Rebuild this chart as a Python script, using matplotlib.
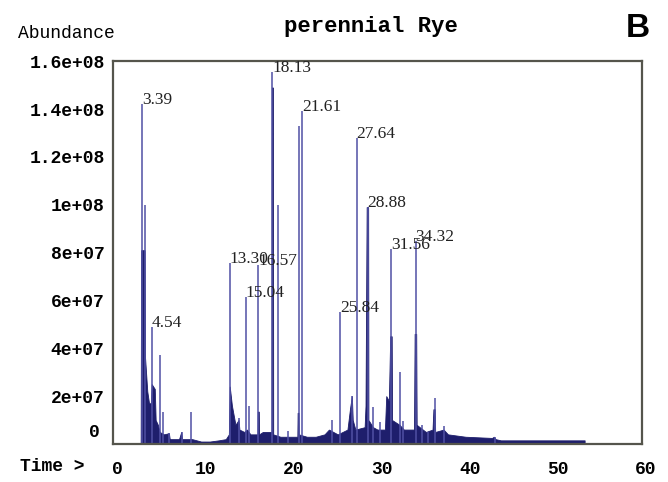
import matplotlib
matplotlib.use("Agg")
from matplotlib import pyplot as plt
from matplotlib.transforms import ScaledTranslation

# peak apex positions (min) and heights (1e7 counts)
peak_times = [3.3, 3.63, 4.38, 5.33, 5.7, 6.4, 7.8, 8.9, 13.27, 14.3, 15.05, 15.4,
              16.5, 18.1, 18.75, 19.9, 21.13, 21.5, 24.87, 25.8, 27.07, 27.63, 28.88,
              29.5, 30.3, 31.53, 32.55, 32.9, 34.33, 35.0, 35.7, 36.5, 37.5, 43.3]
peak_heights = [14.2, 10.0, 4.9, 3.7, 1.35, 0.45, 0.5, 1.35, 7.55, 1.1, 6.15, 1.6,
                7.5, 15.55, 10.0, 0.55, 13.3, 13.9, 1.0, 5.53, 2.0, 12.8, 9.9,
                1.55, 0.9, 8.17, 3.0, 0.95, 8.5, 0.8, 0.5, 1.9, 0.75, 0.3]

# dense part of the trace (baseline + unresolved clusters)
base_t = [3.15, 3.2, 3.6, 3.65, 3.9, 4.1, 4.3, 4.4, 4.75, 4.85, 5.1, 5.3, 5.8, 6.35,
          6.45, 7.5, 7.75, 7.85, 9.0, 10.0, 11.0, 12.0, 12.8, 13.15, 13.25, 13.5, 13.7,
          13.9, 14.25, 14.35, 14.9, 15.2, 15.6, 16.4, 16.43, 16.55, 16.58, 17.0, 18.0,
          18.03, 18.15, 18.18, 19.0, 20.0, 20.92, 20.95, 21.05, 21.08, 22.0, 23.0, 24.0,
          24.5, 25.0, 25.5, 26.6, 26.9, 27.1, 27.2, 27.5, 28.55, 28.65, 28.78, 28.95,
          28.98, 29.5, 30.0, 30.85, 31.0, 31.3, 31.45, 31.62, 31.66, 32.5, 33.0, 34.15,
          34.22, 34.4, 34.45, 35.5, 36.25, 36.35, 36.5, 36.55, 37.5, 38.0, 40.0, 43.0,
          43.2, 43.4, 44.0, 53.5, 53.5]
base_y = [0, 8.1, 8.1, 3.6, 2.2, 1.7, 1.7, 2.5, 2.3, 1.0, 0.8, 0.5, 0.4, 0.45,
          0.2, 0.2, 0.5, 0.2, 0.2, 0.1, 0.1, 0.15, 0.2, 0.4, 2.4, 1.6, 1.2,
          0.8, 1.0, 0.6, 0.5, 0.6, 0.4, 0.4, 1.35, 1.35, 0.4, 0.5, 0.5,
          14.9, 14.9, 0.4, 0.3, 0.3, 0.3, 1.3, 1.3, 0.4, 0.3, 0.3, 0.4,
          0.6, 0.5, 0.4, 0.6, 1.5, 2.0, 1.0, 0.6, 0.7, 1.6, 9.9, 9.9,
          1.0, 0.7, 0.6, 0.6, 2.0, 1.8, 4.5, 4.5, 1.0, 0.8, 0.6, 0.6,
          4.6, 4.6, 0.8, 0.5, 0.6, 1.45, 1.45, 0.5, 0.6, 0.4, 0.3, 0.25,
          0.3, 0.2, 0.15, 0.15, 0]

labels = ["3.39", "4.54", "13.30", "15.04", "16.57", "18.13", "21.61",
          "25.84", "27.64", "28.88", "31.56", "34.32"]
label_t = [3.3, 4.38, 13.27, 15.05, 16.5, 18.1, 21.5, 25.8, 27.63, 28.88, 31.53, 34.33]
label_h = [14.2, 4.9, 7.55, 6.15, 7.5, 15.55, 13.9, 5.53, 12.8, 9.9, 8.17, 8.5]

yticks = [0, 2, 4, 6, 8, 10, 12, 14, 16]
ytick_labels = ["", "2e+07", "4e+07", "6e+07", "8e+07", "1e+08", "1.2e+08", "1.4e+08", "1.6e+08"]
xticks = [0, 10, 20, 30, 40, 50, 60]

mono = "Liberation Mono"
thin_col = "#5050a4"
dark_col = "#1e1e6c"

fig = plt.figure(figsize=(6.68, 4.82), dpi=100)
ax = fig.add_axes([0.169, 0.079, 0.792, 0.794])

ax.vlines(peak_times, 0, peak_heights, color=thin_col, lw=1.1)
ax.fill_between(base_t, 0, base_y, color=dark_col, lw=0.6, edgecolor=dark_col)

for txt, t, h in zip(labels, label_t, label_h):
    ax.text(t, h, txt, fontsize=12.5, family="Liberation Serif", ha="left", va="baseline",
            color="#222222")

ax.set_xlim(0, 60)
ax.set_ylim(0, 16)
ax.set_xticks(xticks)
ax.set_xticklabels([str(v) for v in xticks], family=mono, fontweight="bold", fontsize=13)
ax.set_yticks(yticks)
ax.set_yticklabels(ytick_labels, family=mono, fontweight="bold", fontsize=13)
ax.tick_params(length=0, pad=6)
ax.tick_params(axis="x", pad=12)
shift = ScaledTranslation(3 / 72, 0, fig.dpi_scale_trans)
for lbl in ax.get_xticklabels():
    lbl.set_transform(lbl.get_transform() + shift)
for s in ax.spines.values():
    s.set_color("#55554c")
    s.set_linewidth(1.6)

fig.text(0.15, 0.103, "0", family=mono, fontweight="bold", fontsize=13, ha="right", va="center")
fig.text(0.03, 0.033, "Time >", family=mono, fontweight="bold", fontsize=13, ha="left", va="center")
fig.text(0.027, 0.93, "Abundance", family=mono, fontsize=13, ha="left", va="center")
fig.text(0.555, 0.945, "perennial Rye", family=mono, fontweight="bold", fontsize=16,
         ha="center", va="center")
fig.text(0.955, 0.94, "B", family="Liberation Sans", fontweight="bold", fontsize=24,
         ha="center", va="center")

fig.savefig("out.png", dpi=100)
